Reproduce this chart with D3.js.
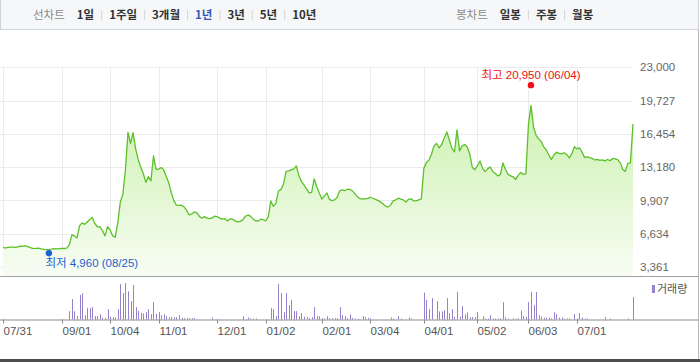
<!DOCTYPE html>
<html>
<head>
<meta charset="utf-8">
<script src="https://cdn.jsdelivr.net/npm/d3@7"></script>
<style>
    body { margin: 0; background: #fff; }
    svg { display: block; font-family: "Liberation Sans", Arial, "Noto Sans CJK KR", sans-serif; }
</style>
</head>
<body>
<svg id="chart" width="700" height="362"></svg>
<script>
// 1년 일별 종가 (07/31 ~ 다음해 07월 말)
var closes = [
    5270, 5240, 5290, 5320, 5310, 5290, 5370, 5400, 5420, 5430,
    5340, 5250, 5170, 5190, 5210, 5140, 5100, 5070, 5090, 5120,
    5160, 5140, 5170, 5200, 5180, 5210, 5530, 6520, 6420, 6220,
    7400, 7700, 7550, 7790, 8040, 8240, 7650, 7300, 7320, 6940,
    6420, 7330, 7010, 6420, 6290, 7700, 9760, 10520, 12900, 16600,
    15530, 16570, 14970, 13940, 13200, 12560, 11680, 12250, 11830, 14280,
    12960, 12980, 13150, 12910, 12270, 11630, 10650, 9860, 9440, 9420,
    9440, 9270, 8930, 8480, 8580, 8780, 8680, 8340, 8160, 8310,
    8160, 8120, 8190, 8360, 8310, 8160, 8070, 8110, 7890, 8090,
    8070, 7890, 7800, 7850, 7990, 8340, 8480, 8360, 8090, 7910,
    7870, 8060, 8010, 7890, 8290, 9860, 9320, 9620, 10840, 10990,
    11530, 12760, 12810, 12910, 13010, 13300, 12370, 11780, 11430, 11040,
    10650, 10700, 12020, 11280, 10650, 10030, 10350, 10650, 10010, 9890,
    9960, 10200, 10860, 10940, 10860, 11010, 10990, 10840, 10550, 10250,
    10080, 10040, 10090, 10080, 10220, 10120, 10020, 9910, 9760, 9570,
    9340, 9250, 9470, 9860, 9960, 10130, 10030, 9960, 9740, 10040,
    10060, 9860, 9860, 9960, 10060, 13060, 13650, 13860, 14480, 15270,
    15510, 15070, 15410, 16050, 16640, 15880, 15020, 14680, 16840, 14780,
    15270, 15410, 15170, 14480, 13150, 12930, 13300, 13790, 13060, 12740,
    13010, 13200, 12760, 12560, 12320, 12450, 13590, 12950, 12470, 12320,
    12220, 11970, 12370, 12660, 12470, 12510, 17330, 19250, 17130, 16300,
    15960, 15710, 15170, 14870, 14380, 13940, 14380, 14650, 14530, 14480,
    14600, 14430, 14090, 14480, 15190, 14970, 15090, 14680, 14140, 14190,
    14120, 14040, 13890, 13940, 13840, 13890, 13790, 13940, 13810, 14040,
    13990, 13920, 13600, 12960, 12760, 13580, 13600, 17430
];

// 거래량 (천주) — 막대가 보이는 날만
var volDay = [
    26, 27, 28, 29, 30, 31, 32, 33, 34, 35, 36, 37, 38, 39, 40, 41, 42, 43, 44, 45,
    46, 47, 48, 49, 50, 51, 52, 53, 54, 55, 56, 57, 58, 59, 60, 61, 62, 63, 64, 65,
    66, 67, 68, 69, 70, 71, 72, 73, 74, 75, 82, 94, 96, 97, 98, 99,
    105, 106, 107, 108, 109, 110, 111, 112, 113, 114, 115, 116, 117, 118, 119, 120,
    121, 122, 123, 124, 125, 126, 127, 128, 129, 130, 131, 132, 133, 134, 135, 136,
    137, 138, 139, 141, 142, 143, 144, 152, 153, 155, 156, 159, 160,
    165, 166, 167, 168, 170, 171, 172, 173, 174, 175, 176, 177, 178, 179, 180, 181,
    182, 183, 184, 185, 186, 188, 189, 190, 191, 192, 193, 194, 195, 196, 197, 198,
    200, 201, 202, 203, 204, 205, 206, 207, 208, 209, 210, 211, 212, 213, 214, 215,
    216, 217, 218, 219, 220, 221, 222, 224, 225, 226, 227, 228, 229, 236, 238, 245, 247
];
var volAmt = [
    830, 2030, 830, 330, 2430, 2600, 430, 1130, 1130, 1230, 330, 330, 530, 170, 170, 1030, 270, 230, 200, 1030,
    3530, 2630, 3630, 2800, 1830, 3430, 1230, 870, 670, 600, 730, 1030, 530, 1730, 570, 730, 430, 530, 330, 230,
    230, 230, 230, 430, 170, 130, 130, 130, 130, 130, 200, 330, 200, 100, 100, 100,
    1130, 1030, 330, 3530, 2630, 730, 2630, 1430, 1930, 830, 830, 330, 630, 270, 230, 130,
    230, 1230, 330, 330, 130, 100, 330, 130, 130, 130, 130, 1230, 430, 330, 130, 500,
    170, 100, 100, 330, 230, 170, 100, 200, 100, 330, 100, 200, 100,
    2670, 1930, 1030, 2130, 1830, 800, 800, 930, 2130, 600, 1030, 270, 2730, 270, 1330, 500,
    700, 230, 230, 230, 770, 330, 100, 100, 430, 100, 100, 100, 100, 1730, 230, 100,
    100, 100, 100, 900, 330, 270, 1730, 2730, 1430, 2730, 430, 270, 170, 170, 170, 100,
    730, 530, 200, 200, 100, 100, 100, 530, 100, 630, 200, 100, 100, 230, 100, 100, 2230
];

var priceTicks = [3361, 6634, 9907, 13180, 16454, 19727, 23000];
var dateTickIdx = [0, 23, 42, 61, 84, 103, 125, 144, 165, 186, 206, 225];
var dateTickLabels = ['07/31', '09/01', '10/04', '11/01', '12/01', '01/02', '02/01', '03/04', '04/01', '05/02', '06/03', '07/01'];

var lowPoint = { idx: 18, value: 4960, date: '08/25' };
var highPoint = { idx: 207, value: 20950, date: '06/04' };

var periodMenu = ['1일', '1주일', '3개월', '1년', '3년', '5년', '10년'];
var candleMenu = ['일봉', '주봉', '월봉'];
var activePeriod = '1년';

(function () {
    var svg = d3.select('#chart');
    var fmt = d3.format(',');

    var x = d3.scaleLinear().domain([0, closes.length - 1]).range([3, 633]);
    var y = d3.scaleLinear().domain([3361, 23000]).range([267, 67.3]);
    var vy = d3.scaleLinear().domain([0, d3.max(volAmt)]).range([319.5, 283]);

    // 상단 메뉴 바
    svg.append('rect').attr('x', 0.5).attr('y', -1).attr('width', 698).attr('height', 30.5)
        .attr('fill', '#f6f7f9').attr('stroke', '#cfd2d6');

    function menu(title, items, startX) {
        var g = svg.append('g').attr('font-family', '"Noto Sans CJK KR", sans-serif').attr('font-size', 11.5);
        var t = g.append('text').attr('x', startX).attr('y', 19).attr('fill', '#8a8a8a').text(title);
        var cx = startX + t.node().getComputedTextLength() + 12;
        items.forEach(function (lbl, i) {
            if (i > 0) {
                g.append('line').attr('x1', cx + 0.5).attr('x2', cx + 0.5).attr('y1', 10).attr('y2', 20)
                    .attr('stroke', '#d6d6d6');
                cx += 8;
            }
            var tt = g.append('text').attr('x', cx).attr('y', 19)
                .attr('font-weight', 700)
                .attr('fill', lbl === activePeriod ? '#3556b8' : '#333')
                .text(lbl);
            cx += tt.node().getComputedTextLength() + 7;
        });
    }
    menu('선차트', periodMenu, 33);
    menu('봉차트', candleMenu, 456);

    // 그리드
    var grid = svg.append('g').attr('stroke', '#ebebeb').attr('stroke-width', 1);
    priceTicks.forEach(function (v) {
        var yy = Math.round(y(v)) + 0.5;
        grid.append('line').attr('x1', 0).attr('x2', 633).attr('y1', yy).attr('y2', yy);
    });
    dateTickIdx.forEach(function (d) {
        var xx = Math.round(x(d)) + 0.5;
        grid.append('line').attr('x1', xx).attr('x2', xx).attr('y1', 67).attr('y2', 276);
    });

    // 면적 그라데이션
    var grad = svg.append('defs').append('linearGradient').attr('id', 'fillGrad')
        .attr('gradientUnits', 'userSpaceOnUse').attr('x1', 0).attr('x2', 0).attr('y1', 67).attr('y2', 277);
    grad.append('stop').attr('offset', 0).attr('stop-color', '#c2eea0');
    grad.append('stop').attr('offset', 1).attr('stop-color', '#f8fdf4');

    var area = d3.area().x(function (d, i) { return x(i); }).y0(277).y1(function (d) { return y(d); });
    var line = d3.line().x(function (d, i) { return x(i); }).y(function (d) { return y(d); });

    svg.append('path').datum(closes).attr('d', area).attr('fill', 'url(#fillGrad)');
    svg.append('path').datum(closes).attr('d', line).attr('fill', 'none')
        .attr('stroke', '#5cc02a').attr('stroke-width', 1.3).attr('stroke-linejoin', 'round');

    // 가격 축 (오른쪽)
    var yAxis = svg.append('g').attr('transform', 'translate(640,0)')
        .call(d3.axisRight(y).tickValues(priceTicks).tickSize(0).tickPadding(0).tickFormat(fmt));
    yAxis.select('.domain').remove();
    yAxis.selectAll('text').attr('fill', '#666').attr('font-size', 11.5)
        .attr('font-family', '"Liberation Sans", Arial, sans-serif');

    // 최고/최저
    var lx = x(lowPoint.idx), ly = y(lowPoint.value) + 2.5;
    svg.append('circle').attr('cx', lx).attr('cy', ly).attr('r', 3.2).attr('fill', '#1a63d6');
    svg.append('text').attr('x', lx - 3.5).attr('y', ly + 14).attr('fill', '#1f5fcf').attr('font-size', 11.5)
        .text('최저 ' + fmt(lowPoint.value) + ' (' + lowPoint.date + ')');

    var hx = x(highPoint.idx), hy = y(highPoint.value) - 3;
    svg.append('circle').attr('cx', hx).attr('cy', hy).attr('r', 3.2).attr('fill', '#f20d1a');
    svg.append('text').attr('x', hx).attr('y', hy - 6.5).attr('text-anchor', 'middle')
        .attr('fill', '#f01010').attr('font-size', 11.5)
        .text('최고 ' + fmt(highPoint.value) + ' (' + highPoint.date + ')');

    // 구분선
    svg.append('line').attr('x1', 0).attr('x2', 698).attr('y1', 276.5).attr('y2', 276.5).attr('stroke', '#a0a0a0');
    svg.append('line').attr('x1', 698.5).attr('x2', 698.5).attr('y1', 30).attr('y2', 360).attr('stroke', '#b8b8b8');

    // 거래량
    svg.append('g').selectAll('rect').data(volDay).join('rect')
        .attr('x', function (d) { return Math.round(x(d)); })
        .attr('width', 1)
        .attr('y', function (d, i) { return vy(volAmt[i]); })
        .attr('height', function (d, i) { return vy(0) - vy(volAmt[i]); })
        .attr('fill', '#9780cc');

    // 날짜 축
    var xAxis = svg.append('g').attr('transform', 'translate(0,319.5)')
        .call(d3.axisBottom(x).tickValues(dateTickIdx).tickSize(4).tickPadding(3)
            .tickFormat(function (d, i) { return dateTickLabels[i]; }));
    xAxis.select('.domain').attr('d', 'M0,0.5H698').attr('stroke', '#8a8a8a');
    xAxis.selectAll('.tick').attr('transform', function (d) { return 'translate(' + (Math.round(x(d)) + 0.5) + ',0)'; });
    xAxis.selectAll('.tick line').attr('stroke', '#8a8a8a');
    xAxis.selectAll('text').attr('text-anchor', 'start').attr('x', 0).attr('fill', '#555')
        .attr('font-size', 11.5).attr('font-family', '"Liberation Sans", Arial, sans-serif');

    // 범례
    svg.append('rect').attr('x', 652).attr('y', 285).attr('width', 3).attr('height', 8).attr('fill', '#9780cc');
    svg.append('text').attr('x', 657).attr('y', 293).attr('font-size', 11).attr('fill', '#555')
        .attr('font-family', '"Noto Sans CJK KR", sans-serif').text('거래량');

    // 하단 바
    svg.append('rect').attr('x', 0).attr('y', 359).attr('width', 700).attr('height', 3).attr('fill', '#4d4d4d');
})();
</script>
</body>
</html>
